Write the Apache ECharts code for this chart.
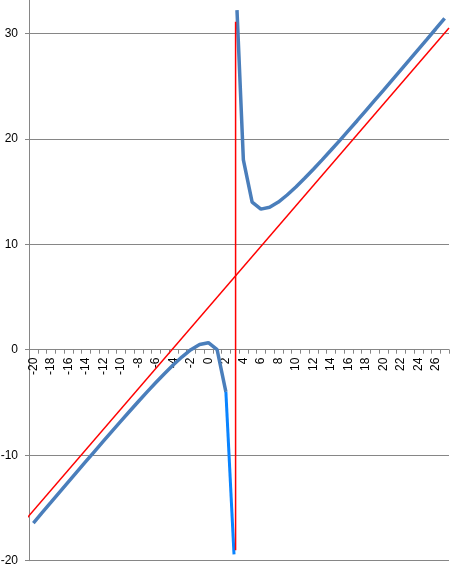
<!DOCTYPE html>
<html>
<head>
<meta charset="utf-8">
<script src="https://cdn.jsdelivr.net/npm/echarts@6/dist/echarts.min.js"></script>
<style>
  html, body { margin: 0; padding: 0; background: #fff; }
  #chart { width: 454px; height: 576px; }
</style>
</head>
<body>
<div id="chart"></div>
<script>
// category labels along the zero line (every other one is shown)
const categories = ['-20', '-19', '-18', '-17', '-16', '-15', '-14', '-13', '-12', '-11',
  '-10', '-9', '-8', '-7', '-6', '-5', '-4', '-3', '-2', '-1', '0', '1', '2', '3',
  '4', '5', '6', '7', '8', '9', '10', '11', '12', '13', '14', '15', '16', '17', '18',
  '19', '20', '21', '22', '23', '24', '25', '26', '27']

// blue curve (null = break at the vertical asymptote)
const curveX = [-20, -19, -18, -17, -16, -15, -14, -13, -12, -11, -10, -9, -8, -7, -6, -5,
  -4, -3, -2, -1, 0, 1, 2, 3, 3.27, 4, 5, 6, 7, 8, 9, 10, 11, 12, 13, 14, 15, 16, 17,
  18, 19, 20, 21, 22, 23, 24, 25, 26, 27]
const curveY = [-16.43, -15.45, -14.48, -13.5, -12.53, -11.56, -10.59, -9.63, -8.67, -7.71,
  -6.77, -5.83, -4.91, -4.0, -3.11, -2.25, -1.43, -0.67, 0, 0.5, 0.67, 0, -4, null, 32.2,
  18, 14, 13.33, 13.5, 14, 14.67, 15.43, 16.25, 17.11, 18, 18.91, 19.83, 20.77, 21.71,
  22.67, 23.63, 24.59, 25.56, 26.53, 27.5, 28.48, 29.45, 30.43, 31.42]

// lower branch drawn in bright blue
const branchX = [2, 2.93]
const branchY = [-4, -19.4]

// red oblique asymptote
const slantX = [-20.88, 27.5]
const slantY = [-16.1, 30.5]

// red vertical asymptote
const vertX = [3.11, 3.11]
const vertY = [31.1, -19.0]

const zip = (xs, ys) => xs.map((x, i) => [x, ys[i]])

const axisGray = '#868686'
const font = 'Liberation Sans'

const chart = echarts.init(document.getElementById('chart'))
const option = {
  animation: false,
  backgroundColor: '#fff',
  grid: {
    left: 29,
    right: 5,
    top: -72.2,
    bottom: 15.3,
    containLabel: false,
    outerBoundsMode: 'none'
  },
  xAxis: [
    {
      // sits on the zero line: moved up from the grid bottom (-20) by 20 units
      type: 'category',
      data: categories,
      position: 'bottom',
      offset: -211,
      boundaryGap: true,
      axisLine: { onZero: false, lineStyle: { color: axisGray } },
      axisTick: { show: true, interval: 0, length: 4, lineStyle: { color: axisGray } },
      axisLabel: {
        interval: 1,
        rotate: 90,
        margin: 8,
        color: '#000',
        fontSize: 12,
        fontFamily: font
      },
      splitLine: { show: false }
    },
    {
      type: 'value',
      min: -20.5,
      max: 27.5,
      show: false
    }
  ],
  yAxis: {
    type: 'value',
    min: -20,
    max: 40,
    interval: 10,
    axisLine: { show: true, onZero: false, lineStyle: { color: axisGray } },
    axisTick: { show: true, length: 4, lineStyle: { color: axisGray } },
    axisLabel: { margin: 11, color: '#000', fontSize: 12, fontFamily: font },
    splitLine: { show: true, lineStyle: { color: axisGray, width: 1 } }
  },
  series: [
    {
      name: 'curve',
      type: 'line',
      xAxisIndex: 1,
      data: zip(curveX, curveY),
      symbol: 'none',
      connectNulls: false,
      lineStyle: { color: '#4A7EBB', width: 3.5 },
      z: 2
    },
    {
      name: 'branch',
      type: 'line',
      xAxisIndex: 1,
      data: zip(branchX, branchY),
      symbol: 'none',
      lineStyle: { color: '#0A84FF', width: 3 },
      z: 3
    },
    {
      name: 'slant',
      type: 'line',
      xAxisIndex: 1,
      data: zip(slantX, slantY),
      symbol: 'none',
      clip: false,
      lineStyle: { color: '#FF0000', width: 1.5 },
      z: 4
    },
    {
      name: 'vertical',
      type: 'line',
      xAxisIndex: 1,
      data: zip(vertX, vertY),
      symbol: 'none',
      lineStyle: { color: '#FF0000', width: 1.5 },
      z: 4
    }
  ]
}
chart.setOption(option)
</script>
</body>
</html>
